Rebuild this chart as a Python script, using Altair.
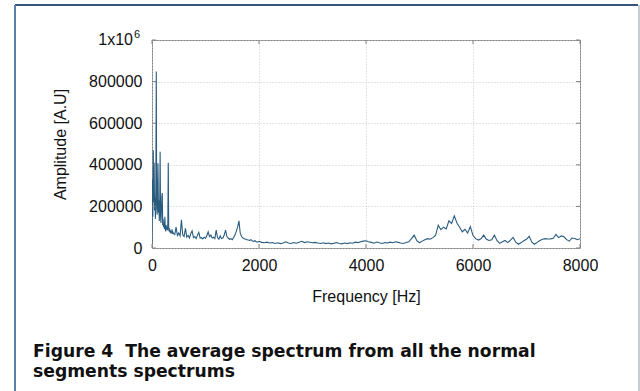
import altair as alt
import pandas as pd

# ---- data (amplitudes in thousands) ----
freq_low = [0, 8, 16, 24, 32, 40, 48, 56, 64, 72, 80, 88, 96, 104, 112, 120, 128, 136, 144, 152,
            160, 168, 176, 184, 192, 200, 208, 216, 224, 232, 240, 248, 256, 264, 272, 280, 288, 296,
            304, 312, 320, 328, 336, 344, 352, 360, 368, 376, 384, 392, 400]
amp_low = [20, 330, 150, 470, 220, 410, 180, 240, 140, 300, 848, 200, 160, 260, 407, 170, 230, 130, 200, 463,
           150, 120, 180, 247, 264, 110, 140, 100, 120, 90, 150, 100, 80, 110, 90, 100, 85, 120,
           410, 90, 80, 95, 75, 85, 70, 80, 72, 90, 68, 75, 70]

freq_mid = [425, 450, 475, 500, 525, 550, 575, 600, 625, 650, 675, 700, 725, 750, 775, 800, 825, 850,
            875, 900, 925, 950, 975, 1000, 1025, 1050, 1075, 1100, 1125, 1150, 1175, 1200, 1225, 1250,
            1275, 1300, 1325, 1350, 1375, 1400, 1425, 1450, 1475, 1500, 1525, 1550, 1575, 1600, 1625,
            1650, 1675, 1700, 1725, 1750, 1775, 1800, 1825, 1850, 1875, 1900, 1925, 1950, 1975, 2000]
amp_mid = [65, 100, 60, 72, 58, 135, 62, 55, 95, 52, 60, 48, 70, 82, 50, 55, 45, 62,
           75, 48, 50, 44, 52, 46, 60, 78, 55, 62, 48, 52, 45, 86, 50, 42,
           58, 45, 48, 62, 86, 55, 48, 42, 45, 40, 50, 62, 80, 100, 131,
           70, 55, 48, 45, 42, 40, 38, 36, 40, 34, 32, 35, 30, 28, 32]

freq_high = [2050, 2100, 2150, 2200, 2250, 2300, 2350, 2400, 2450, 2500, 2550, 2600, 2650, 2700, 2750,
             2800, 2850, 2900, 2950, 3000, 3050, 3100, 3150, 3200, 3250, 3300, 3350, 3400, 3450, 3500,
             3550, 3600, 3650, 3700, 3750, 3800, 3850, 3900, 3950, 4000, 4050, 4100, 4150, 4200, 4250,
             4300, 4350, 4400, 4450, 4500, 4550, 4600, 4650, 4700, 4750, 4800, 4850, 4900, 4950, 5000,
             5050, 5100, 5150, 5200, 5250, 5300, 5350, 5400, 5450, 5500, 5550, 5600, 5650, 5700, 5750,
             5800, 5850, 5900, 5950, 6000, 6050, 6100, 6150, 6200, 6250, 6300, 6350, 6400, 6450, 6500,
             6550, 6600, 6650, 6700, 6750, 6800, 6850, 6900, 6950, 7000, 7050, 7100, 7150, 7200, 7250,
             7300, 7350, 7400, 7450, 7500, 7550, 7600, 7650, 7700, 7750, 7800, 7850, 7900, 7950, 8000]
amp_high = [27, 25, 28, 24, 26, 22, 25, 21, 24, 30, 24, 22, 26, 23, 28,
            32, 26, 30, 28, 25, 27, 24, 22, 25, 21, 24, 20, 23, 26, 22,
            20, 24, 21, 25, 23, 28, 26, 30, 33, 35, 30, 27, 23, 29, 25,
            22, 26, 24, 28, 25, 30, 27, 24, 22, 26, 30, 45, 62, 35, 25,
            33, 40, 45, 42, 50, 60, 110, 88, 100, 92, 131, 118, 155, 120, 100,
            78, 90, 72, 103, 60, 45, 38, 44, 62, 42, 36, 40, 62, 35, 22,
            30, 36, 26, 38, 51, 28, 18, 26, 35, 42, 56, 28, 18, 27, 36,
            42, 45, 43, 44, 47, 65, 50, 58, 54, 40, 33, 48, 46, 40, 45]

x_ticks = [0, 2000, 4000, 6000, 8000]
y_ticks = [0, 200000, 400000, 600000, 800000, 1000000]
top_label_base = "1x10"
top_label_exp = "6"

caption_lines = ["Figure 4\u00a0 The average spectrum from all the normal", "segments spectrums"]

freqs = freq_low + freq_mid + freq_high
amps = [v * 1000 for v in (amp_low + amp_mid + amp_high)]
df = pd.DataFrame({"freq": freqs, "amp": amps})
xt = pd.DataFrame({"v": x_ticks})
yt = pd.DataFrame({"v": y_ticks})

W, H = 428, 208
AXC = "#808080"
FONT = "Liberation Sans"
TXT = "#111111"

xscale = alt.Scale(domain=[0, 8000], nice=False, zero=False)
yscale = alt.Scale(domain=[0, 1000000], nice=False)

line = alt.Chart(df).mark_line(color="#2a5c80", strokeWidth=1.1, clip=True).encode(
    x=alt.X("freq:Q", scale=xscale, title="Frequency [Hz]",
            axis=alt.Axis(values=x_ticks, grid=True, tickSize=0, domain=False, format="d",
                          labelFlush=False, labelPadding=9, titlePadding=15)),
    y=alt.Y("amp:Q", scale=yscale, title="Amplitude [A.U]",
            axis=alt.Axis(values=y_ticks, grid=True, tickSize=0, domain=False, labelFlush=False,
                          labelPadding=10, titlePadding=20,
                          labelExpr="datum.value == 1000000 ? '' : format(datum.value, 'd')")),
)

ytick_l = alt.Chart(yt).mark_rule(color=AXC, strokeWidth=1).encode(
    y=alt.Y("v:Q", scale=yscale), x=alt.value(0), x2=alt.value(4))
ytick_r = alt.Chart(yt).mark_rule(color=AXC, strokeWidth=1).encode(
    y=alt.Y("v:Q", scale=yscale), x=alt.value(W - 4), x2=alt.value(W))
xtick_b = alt.Chart(xt).mark_rule(color=AXC, strokeWidth=1).encode(
    x=alt.X("v:Q", scale=xscale), y=alt.value(H - 4), y2=alt.value(H))
xtick_t = alt.Chart(xt).mark_rule(color=AXC, strokeWidth=1).encode(
    x=alt.X("v:Q", scale=xscale), y=alt.value(0), y2=alt.value(4))

# top y label with real superscript
lab_base = alt.Chart(pd.DataFrame({"t": [top_label_base]})).mark_text(
    align="right", baseline="middle", font=FONT, fontSize=16, color=TXT
).encode(text="t:N", x=alt.value(-19), y=alt.value(0))
lab_exp = alt.Chart(pd.DataFrame({"t": [top_label_exp]})).mark_text(
    align="left", baseline="middle", font=FONT, fontSize=11, color=TXT
).encode(text="t:N", x=alt.value(-18), y=alt.value(-5))

# outer figure frame
frame_top = alt.Chart(xt).mark_rule(color="#34557a", strokeWidth=1.5).encode(
    x=alt.value(-137), x2=alt.value(486), y=alt.value(-35))
frame_left = alt.Chart(xt).mark_rule(color="#5b80a8", strokeWidth=1.5).encode(
    x=alt.value(-137), y=alt.value(-35), y2=alt.value(360))
frame_right = alt.Chart(xt).mark_rule(color="#c5ccd6", strokeWidth=1.5).encode(
    x=alt.value(487), y=alt.value(-35), y2=alt.value(360))

# caption (two lines)
cap1 = alt.Chart(pd.DataFrame({"t": [caption_lines[0]]})).mark_text(
    align="left", baseline="alphabetic", font="DejaVu Sans", fontSize=17.2, fontWeight="bold", color=TXT
).encode(text="t:N", x=alt.value(-119), y=alt.value(317))
cap2 = alt.Chart(pd.DataFrame({"t": [caption_lines[1]]})).mark_text(
    align="left", baseline="alphabetic", font="DejaVu Sans", fontSize=17.2, fontWeight="bold", color=TXT
).encode(text="t:N", x=alt.value(-119), y=alt.value(337))

chart = alt.layer(
    line, ytick_l, ytick_r, xtick_b, xtick_t, lab_base, lab_exp,
    frame_top, frame_left, frame_right, cap1, cap2
).properties(
    width=W, height=H,
    autosize=alt.AutoSizeParams(type="none"),
    padding={"left": 152, "top": 40, "right": 60, "bottom": 143},
).configure(
    background="white"
).configure_view(
    stroke=AXC, strokeWidth=1
).configure_axis(
    gridColor="#c8c8c8", gridDash=[1, 2], gridWidth=1,
    labelFont=FONT, labelFontSize=16, labelColor=TXT,
    titleFont=FONT, titleFontSize=16, titleFontWeight="normal", titleColor=TXT,
)

chart.save("out.html", embed_options={"renderer": "svg", "actions": False})
